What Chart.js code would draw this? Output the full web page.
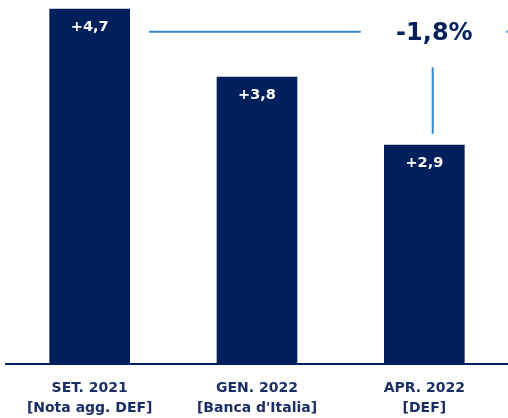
<!DOCTYPE html>
<html><head><meta charset="utf-8">
<script src="https://cdn.jsdelivr.net/npm/chart.js@4"></script>
<style>html,body{margin:0;padding:0;background:#fff}#wrap{width:508px;height:418px}</style>
</head><body><div id="wrap"><canvas id="c" width="508" height="418"></canvas></div>
<script>
const categories = [["SET. 2021","[Nota agg. DEF]"],["GEN. 2022","[Banca d'Italia]"],["APR. 2022","[DEF]"]];
const values = [4.7, 3.8, 2.9];
const valueLabels = ["+4,7","+3,8","+2,9"];
const deltaLabel = "-1,8%";

const NAVY = "#001f5b";
const LIGHT = "#3a87c8";
const FONT = "'DejaVu Sans', sans-serif";

const annot = {
  id: 'annot',
  afterDatasetsDraw(chart) {
    const ctx = chart.ctx, x = chart.scales.x, y = chart.scales.y;
    ctx.save();
    const meta = chart.getDatasetMeta(0);
    ctx.fillStyle = "#fff";
    ctx.font = "bold 14.5px " + FONT;
    ctx.textAlign = "center"; ctx.textBaseline = "middle";
    meta.data.forEach((b, i) => ctx.fillText(valueLabels[i], b.x, b.y + 18));
    const yl = y.getPixelForValue(4.4);
    ctx.strokeStyle = LIGHT; ctx.lineWidth = 2;
    ctx.beginPath();
    ctx.moveTo(x.getPixelForValue(0.355), yl); ctx.lineTo(x.getPixelForValue(1.62), yl);
    ctx.moveTo(x.getPixelForValue(2.49), yl); ctx.lineTo(chart.width, yl);
    const xv = x.getPixelForValue(2.05);
    ctx.moveTo(xv, y.getPixelForValue(3.93)); ctx.lineTo(xv, y.getPixelForValue(3.05));
    ctx.stroke();
    ctx.fillStyle = NAVY;
    ctx.font = "bold 24px " + FONT;
    ctx.fillText(deltaLabel, x.getPixelForValue(2.06), yl + 2);
    ctx.restore();
  }
};

new Chart(document.getElementById('c'), {
  type: 'bar',
  data: { labels: categories, datasets: [{ data: values, backgroundColor: NAVY, barThickness: 80 }] },
  options: {
    responsive: false, animation: false,
    layout: { padding: { left: 6, right: 0, top: 0, bottom: 0 } },
    plugins: { legend: { display: false }, tooltip: { enabled: false } },
    scales: {
      y: { display: false, min: 0, max: 4.82 },
      x: {
        grid: { display: false, drawTicks: false },
        border: { display: true, color: NAVY, width: 2 },
        ticks: { color: "#1b2f66", font: { family: FONT, size: 14, weight: 'bold', lineHeight: '20px' }, padding: 14 },
        afterFit(s) { s.height = 54; }
      }
    }
  },
  plugins: [annot]
});
</script></body></html>
